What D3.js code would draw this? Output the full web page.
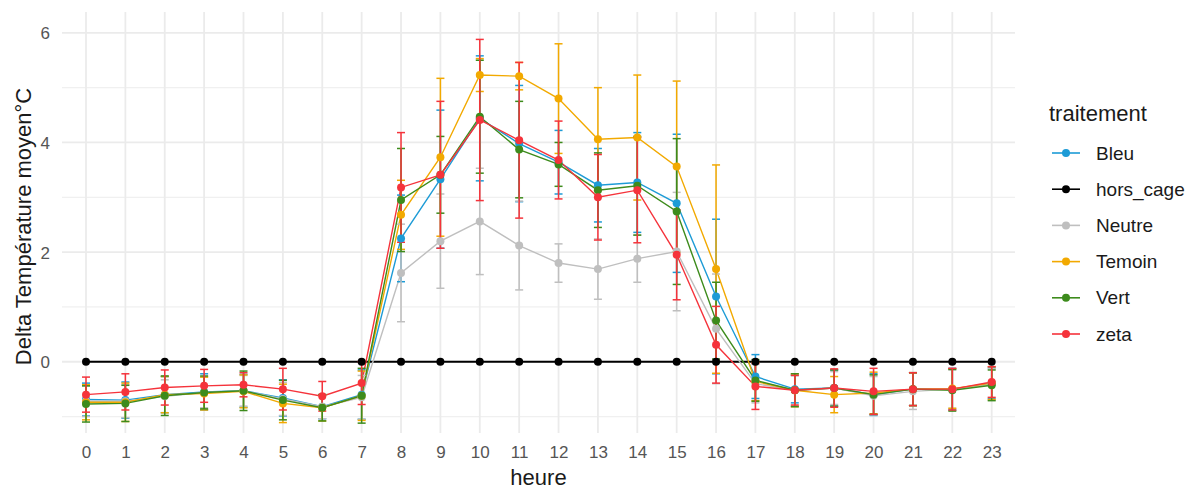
<!DOCTYPE html>
<html>
<head>
<meta charset="utf-8">
<script src="https://cdn.jsdelivr.net/npm/d3@7"></script>
<style>
  html, body { margin: 0; padding: 0; background: #ffffff; }
  svg { display: block; font-family: "Liberation Sans", Arial, sans-serif; }
</style>
</head>
<body>
<svg id="chart" width="1196" height="492"></svg>
<script>
// ---- data ----
const hours = ["0","1","2","3","4","5","6","7","8","9","10","11","12","13","14","15","16","17","18","19","20","21","22","23"];
const seriesNames = ["Bleu", "hors_cage", "Neutre", "Temoin", "Vert", "zeta"];
const seriesColors = ["#1d9bd6", "#000000", "#bfbfbf", "#f2a900", "#3d8b1c", "#f5333b"];

const bleu     = [-0.69,-0.70,-0.60,-0.55,-0.53,-0.66,-0.82,-0.60, 2.25, 3.33, 4.44, 3.98, 3.64, 3.22, 3.27, 2.89, 1.19,-0.27,-0.50,-0.48,-0.60,-0.50,-0.50,-0.39];
const horsCage = [0,0,0,0,0,0,0,0,0,0,0,0,0,0,0,0,0,0,0,0,0,0,0,0];
const neutre   = [-0.72,-0.72,-0.63,-0.56,-0.53,-0.68,-0.82,-0.65, 1.62, 2.20, 2.56, 2.12, 1.80, 1.69, 1.88, 2.01, 0.60,-0.40,-0.52,-0.48,-0.62,-0.54,-0.50,-0.41];
const temoin   = [-0.74,-0.74,-0.60,-0.58,-0.54,-0.76,-0.84,-0.62, 2.68, 3.73, 5.23, 5.21, 4.80, 4.06, 4.09, 3.56, 1.69,-0.36,-0.52,-0.60,-0.57,-0.50,-0.49,-0.39];
const vert     = [-0.77,-0.76,-0.62,-0.56,-0.53,-0.70,-0.84,-0.62, 2.95, 3.41, 4.47, 3.87, 3.60, 3.13, 3.21, 2.74, 0.75,-0.34,-0.52,-0.48,-0.60,-0.50,-0.52,-0.43];
const zeta     = [-0.60,-0.55,-0.47,-0.44,-0.42,-0.50,-0.63,-0.39, 3.18, 3.41, 4.41, 4.04, 3.68, 3.00, 3.13, 1.95, 0.31,-0.45,-0.52,-0.48,-0.54,-0.50,-0.50,-0.37];

// error half-widths
const bleuErr     = [0.30,0.33,0.33,0.33,0.30,0.33,0.22,0.45, 0.79,1.26,1.14,1.06,0.58,0.67,0.91,1.26,1.41,0.40, 0.25,0.33,0.38,0.30,0.38,0.28];
const horsCageErr = [0,0,0,0,0,0,0,0,0,0,0,0,0,0,0,0,0,0,0,0,0,0,0,0];
const neutreErr   = [0.28,0.30,0.30,0.28,0.28,0.30,0.22,0.40, 0.89,0.86,0.97,0.81,0.35,0.55,0.43,1.08,1.00,0.35, 0.28,0.30,0.35,0.33,0.35,0.28];
const temoinErr   = [0.32,0.35,0.33,0.30,0.30,0.35,0.24,0.45, 0.63,1.44,0.30,0.25,1.00,0.94,1.14,1.56,1.90,0.35, 0.30,0.33,0.38,0.30,0.36,0.30];
const vertErr     = [0.33,0.33,0.36,0.30,0.36,0.36,0.24,0.50, 0.94,0.70,1.03,0.88,0.40,0.68,0.90,1.33,0.70,0.38, 0.30,0.33,0.36,0.30,0.38,0.28];
const zetaErr     = [0.32,0.33,0.32,0.30,0.22,0.38,0.27,0.39, 1.00,1.34,1.47,1.42,0.71,0.78,0.96,0.82,0.70,0.42, 0.27,0.35,0.42,0.30,0.38,0.28];

const yTicks = [0, 2, 4, 6];
const yMinor = [-1, 1, 3, 5];
const yTitle = "Delta Température moyen°C";
const xTitle = "heure";
const legendTitle = "traitement";

// ---- build ----
const seriesValues = [bleu, horsCage, neutre, temoin, vert, zeta];
const seriesErrs = [bleuErr, horsCageErr, neutreErr, temoinErr, vertErr, zetaErr];
const series = seriesNames.map((name, i) => ({
  name, color: seriesColors[i],
  points: hours.map((h, j) => ({ h, v: seriesValues[i][j], e: seriesErrs[i][j] }))
}));

const svg = d3.select("#chart");
const panel = { left: 62, right: 1015, top: 12, bottom: 433 };

const x = d3.scalePoint().domain(hours).range([86, 991.7]);
const y = d3.scaleLinear().domain([-1.3, 6.38]).range([panel.bottom, panel.top]);

const grid = svg.append("g");
grid.selectAll("line.minor").data(yMinor).join("line")
  .attr("x1", panel.left).attr("x2", panel.right)
  .attr("y1", d => y(d)).attr("y2", d => y(d))
  .attr("stroke", "#f0f0f0").attr("stroke-width", 1.2);
grid.selectAll("line.majory").data(yTicks).join("line")
  .attr("x1", panel.left).attr("x2", panel.right)
  .attr("y1", d => y(d)).attr("y2", d => y(d))
  .attr("stroke", "#ebebeb").attr("stroke-width", 1.8);
grid.selectAll("line.majorx").data(hours).join("line")
  .attr("x1", d => x(d)).attr("x2", d => x(d))
  .attr("y1", panel.top).attr("y2", panel.bottom)
  .attr("stroke", "#ebebeb").attr("stroke-width", 1.8);

// axes
const yAxis = svg.append("g").attr("transform", `translate(${panel.left - 12},0)`)
  .call(d3.axisLeft(y).tickValues(yTicks).tickSize(0).tickPadding(0).tickFormat(d3.format("d")));
yAxis.select(".domain").remove();
yAxis.selectAll("text").attr("font-size", 17).attr("fill", "#555555")
  .attr("font-family", "Liberation Sans, Arial, sans-serif").attr("dy", "0.35em");

const xAxis = svg.append("g").attr("transform", `translate(0,${panel.bottom + 10})`)
  .call(d3.axisBottom(x).tickSize(0).tickPadding(0));
xAxis.select(".domain").remove();
xAxis.selectAll("text").attr("font-size", 17).attr("fill", "#555555")
  .attr("font-family", "Liberation Sans, Arial, sans-serif").attr("dy", "0.9em");

svg.append("text").attr("x", (panel.left + panel.right) / 2).attr("y", 485)
  .attr("text-anchor", "middle").attr("font-size", 22).attr("fill", "#1a1a1a").text(xTitle);
svg.append("text").attr("transform", `translate(31,${(panel.top + panel.bottom) / 2 + 4}) rotate(-90)`)
  .attr("text-anchor", "middle").attr("font-size", 22).attr("fill", "#1a1a1a").text(yTitle);

// data layers
const line = d3.line().x(d => x(d.h)).y(d => y(d.v));
const marks = svg.append("g");

series.forEach(s => {
  marks.append("path").datum(s.points).attr("d", line)
    .attr("fill", "none").attr("stroke", s.color)
    .attr("stroke-width", s.name === "hors_cage" ? 2 : 1.4);
});

const hw = 4;
series.forEach(s => {
  if (s.name === "hors_cage") return;
  const g = marks.append("g").attr("stroke", s.color).attr("stroke-width", 1.5);
  g.selectAll("line.v").data(s.points).join("line")
    .attr("x1", d => x(d.h)).attr("x2", d => x(d.h))
    .attr("y1", d => y(d.v + d.e)).attr("y2", d => y(d.v - d.e));
  g.selectAll("line.t").data(s.points).join("line")
    .attr("x1", d => x(d.h) - hw).attr("x2", d => x(d.h) + hw)
    .attr("y1", d => y(d.v + d.e)).attr("y2", d => y(d.v + d.e));
  g.selectAll("line.b").data(s.points).join("line")
    .attr("x1", d => x(d.h) - hw).attr("x2", d => x(d.h) + hw)
    .attr("y1", d => y(d.v - d.e)).attr("y2", d => y(d.v - d.e));
});

series.forEach(s => {
  marks.append("g").selectAll("circle").data(s.points).join("circle")
    .attr("cx", d => x(d.h)).attr("cy", d => y(d.v)).attr("r", 4)
    .attr("fill", s.color);
});

// legend
const legend = svg.append("g");
legend.append("text").attr("x", 1049).attr("y", 121).attr("font-size", 22)
  .attr("fill", "#1a1a1a").text(legendTitle);
const items = legend.selectAll("g.item").data(series).join("g")
  .attr("transform", (d, i) => `translate(0,${153 + i * 36.2})`);
items.append("line").attr("x1", 1052).attr("x2", 1080).attr("y1", 0).attr("y2", 0)
  .attr("stroke", d => d.color).attr("stroke-width", 1.6);
items.append("circle").attr("cx", 1066).attr("cy", 0).attr("r", 4).attr("fill", d => d.color);
items.append("text").attr("x", 1096).attr("y", 0).attr("dy", "0.35em")
  .attr("font-size", 19).attr("fill", "#1a1a1a").text(d => d.name);
</script>
</body>
</html>
